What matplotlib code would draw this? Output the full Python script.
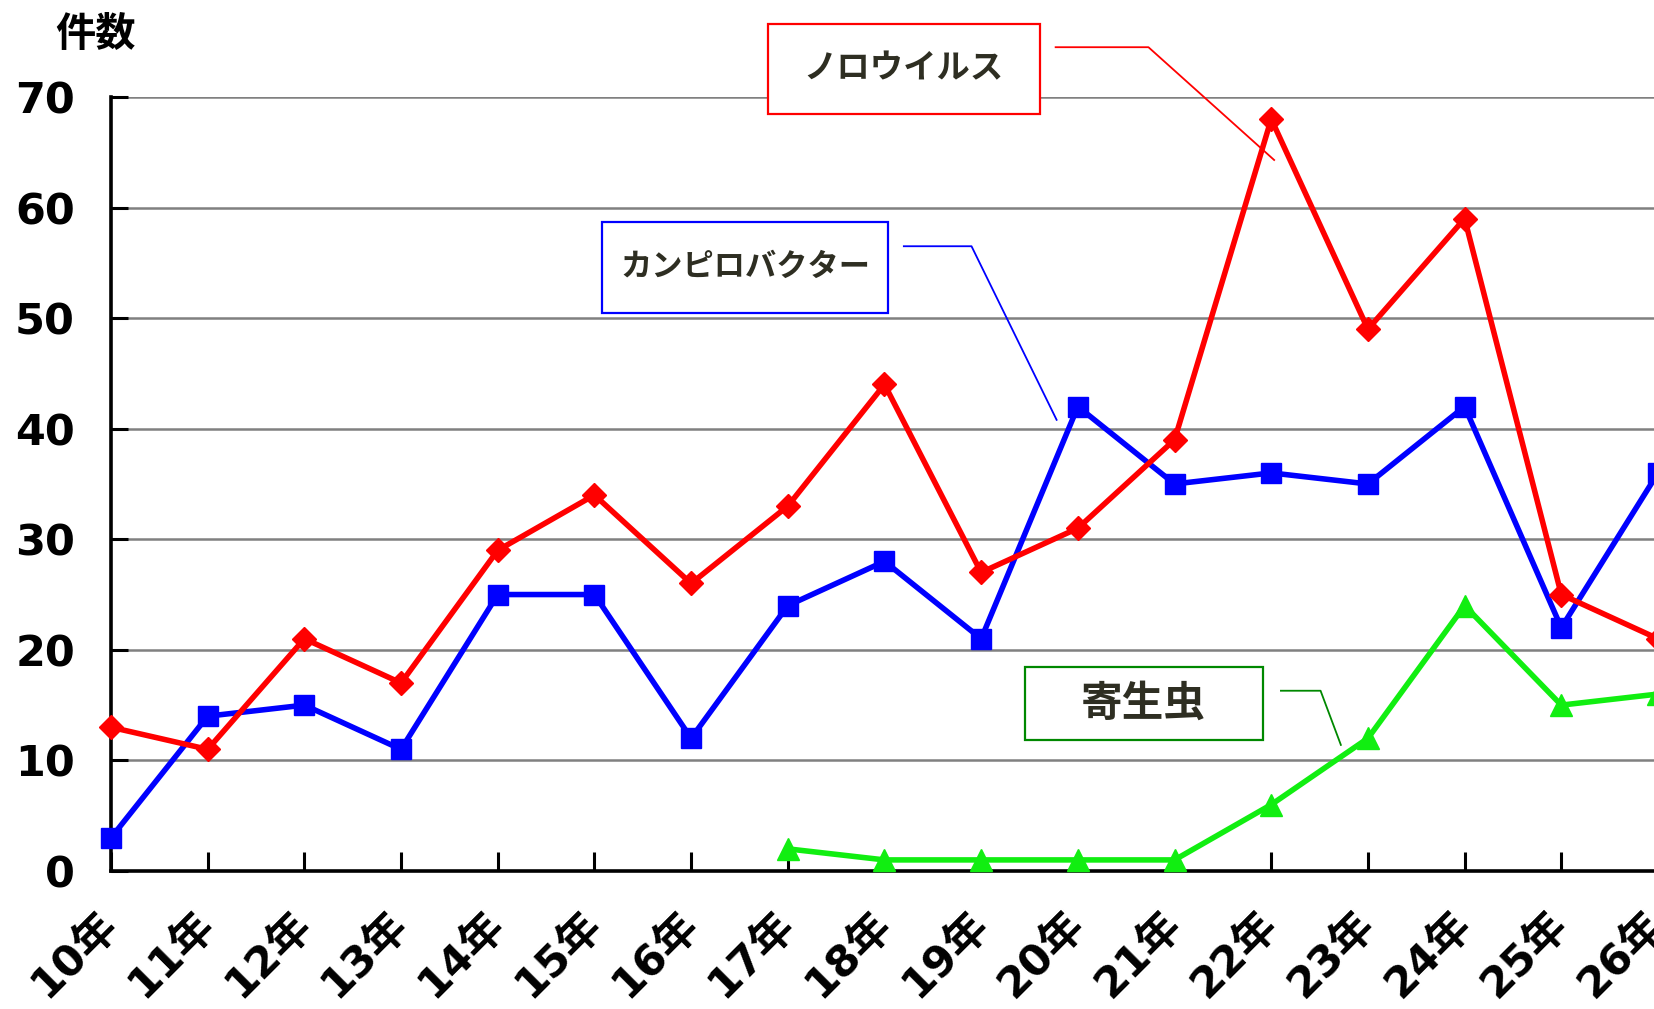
import matplotlib
matplotlib.use("Agg")
import matplotlib.pyplot as plt
from matplotlib.patches import Rectangle
import numpy as np

# data
years = ["10年", "11年", "12年", "13年", "14年", "15年", "16年", "17年", "18年",
         "19年", "20年", "21年", "22年", "23年", "24年", "25年", "26年"]
noro = [13, 11, 21, 17, 29, 34, 26, 33, 44, 27, 31, 39, 68, 49, 59, 25, 21]
campy = [3, 14, 15, 11, 25, 25, 12, 24, 28, 21, 42, 35, 36, 35, 42, 22, 36]
para = [np.nan] * 7 + [2, 1, 1, 1, 1, 6, 12, 24, 15, 16]

jp = ["DejaVu Sans", "Noto Sans CJK JP"]
txt_col = "#2e2e22"

fig = plt.figure(figsize=(16.54, 10.09), dpi=100)
ax = fig.add_axes([111 / 1654, 0.1368, (1658 - 111) / 1654, 0.7671])

x = np.arange(len(years))
ax.plot(x, campy, color="#0000ff", lw=4, marker="s", ms=15, zorder=4, clip_on=False)
ax.plot(x, noro, color="#ff0000", lw=4, marker="D", ms=12, zorder=5, clip_on=False)
ax.plot(x, para, color="#11ee11", lw=4, marker="^", ms=16, zorder=6, clip_on=False)

ax.set_xlim(0, 16)
ax.set_ylim(0, 70)
ax.set_yticks(range(0, 71, 10))
ax.set_xticks(x)
ax.set_xticklabels(years)
for lab in ax.get_xticklabels():
    lab.set_family(jp)
    lab.set_fontsize(31)
    lab.set_fontweight("bold")
    lab.set_rotation(45)
    lab.set_rotation_mode("anchor")
    lab.set_ha("right")
    lab.set_va("center")
for lab in ax.get_yticklabels():
    lab.set_fontsize(31)
    lab.set_fontweight("bold")

ax.tick_params(axis="x", direction="in", length=14, width=2.2, pad=34)
ax.tick_params(axis="y", direction="in", length=12, width=2.2, pad=26)

ax.grid(axis="y", color="#808080", lw=1.8, zorder=1)
ax.set_axisbelow(True)
for s in ["top", "right"]:
    ax.spines[s].set_visible(False)
for s in ["left", "bottom"]:
    ax.spines[s].set_linewidth(2.6)
    ax.spines[s].set_color("black")

fig.text(96 / 1654, 1 - 34 / 1009, "件数", family="Noto Sans CJK JP",
         fontsize=29, fontweight="bold", ha="center", va="center")

# callout boxes  (x0, y0, w, h) in data units, connector path, colour, size
boxes = [
    ("ノロウイルス", (6.79, 68.5, 2.82, 8.1), [9.77, 10.73, 12.03], [74.5, 74.5, 64.3], "#ff0000", 24),
    ("カンピロバクター", (5.08, 50.5, 2.96, 8.2), [8.20, 8.90, 9.78], [56.5, 56.5, 40.8], "#0000ff", 22.5),
    ("寄生虫", (9.45, 11.85, 2.46, 6.6), [12.10, 12.51, 12.72], [16.3, 16.3, 11.4], "#008800", 30),
]
for label, (bx, by, bw, bh), lx, ly, col, fs in boxes:
    ax.add_patch(Rectangle((bx, by), bw, bh, facecolor="white", edgecolor=col,
                           lw=1.6, zorder=7, clip_on=False))
    ax.text(bx + bw / 2, by + bh / 2, label, family="Noto Sans CJK JP", fontsize=fs,
            fontweight="bold", color=txt_col, ha="center", va="center", zorder=8,
            clip_on=False)
    ax.plot(lx, ly, color=col, lw=1.3, zorder=3, clip_on=False)

fig.savefig("out.png", dpi=100)
